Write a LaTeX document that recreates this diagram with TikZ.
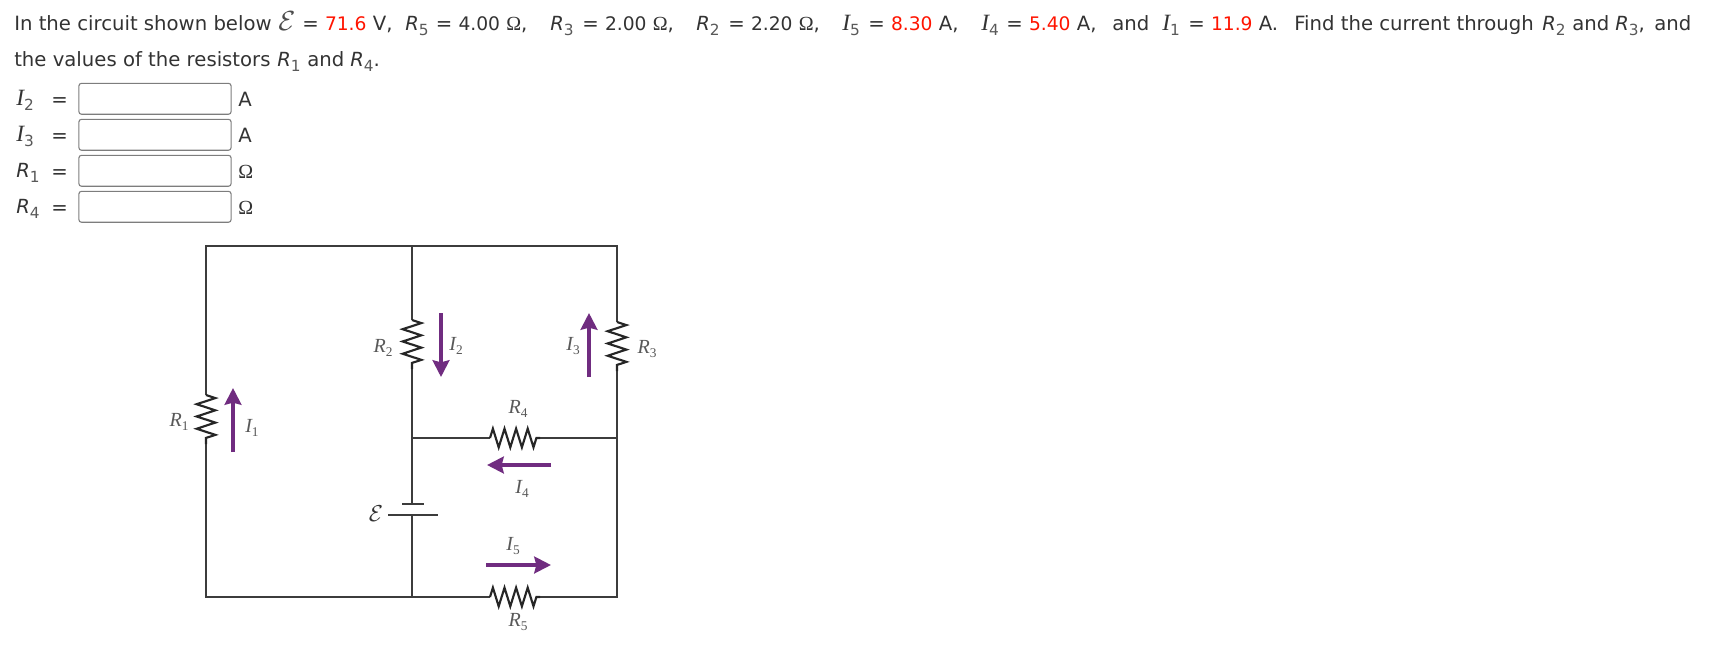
\documentclass[tikz,border=0pt]{standalone}
\usepackage{fontspec}
\setmainfont{DejaVu Sans}
\newfontfamily\symfont{Liberation Serif}
\usetikzlibrary{arrows.meta, decorations.pathmorphing}
\definecolor{cText}{RGB}{51,51,51}
\definecolor{cRed}{RGB}{255,20,0}
\definecolor{cWire}{RGB}{60,60,60}
\definecolor{cCurrent}{RGB}{112,44,128}
\definecolor{cBorder}{RGB}{125,125,125}
\newcommand{\qsub}[1]{\raisebox{-0.27em}{\fontsize{11.5}{12}\selectfont\color{black!65}#1}}
\newcommand{\qr}[1]{{\itshape\fontsize{14.6}{17}\selectfont R}\qsub{#1}}
\newcommand{\qi}[1]{{\symfont\itshape\fontsize{17.5}{20}\selectfont I}\qsub{#1}}
\newcommand{\cv}[2]{{\symfont\itshape #1}\raisebox{-0.22em}{\symfont\fontsize{10}{10}\selectfont #2}}
\newcommand{\ohm}{{\symfont\fontsize{15}{16}\selectfont ^^^^03a9}}
\newcommand{\nv}[1]{{\fontsize{14}{17}\selectfont #1}}
\newcommand{\val}[1]{\textcolor{cRed}{\nv{#1}}}
\tikzset{
  qtext/.style={anchor=base west,inner sep=0pt,text=cText,font=\fontsize{14.75}{17}\selectfont},
  ansbox/.style={draw=cBorder,rounded corners=2pt,line width=0.8pt,minimum width=114.2pt,minimum height=23.2pt,inner sep=0pt},
  wire/.style={draw=cWire,line width=1.3pt},
  res/.style={draw=black!85,line width=1.6pt,decorate,decoration={zigzag,amplitude=7pt,segment length=9.2pt}},
  hres/.style={draw=black!85,line width=1.6pt,decorate,decoration={zigzag,amplitude=7pt,segment length=8.7pt}},
  cur/.style={draw=cCurrent,line width=3.2pt,-{Stealth[length=12.5pt,width=12.5pt,inset=1.5pt]}},
  clabel/.style={inner sep=0pt,text=black!65,font=\symfont\fontsize{15}{16}\selectfont},
}
\begin{document}
\begin{tikzpicture}[x=0.75pt,y=-0.75pt]
  \useasboundingbox[fill=white] (0,0) rectangle (1725,661);
  % Enunciado
  \node[qtext] (t1) at (14,30) {In the circuit shown below};
  \node[qtext,text=black!70,font=\fontsize{21}{21}\selectfont] (t2) at (278,30) {$\mathcal{E}$};
  \node[qtext] (t3) at (302,30) {= \val{71.6} V,};
  \node[qtext] (t4) at (405,30) {\qr{5}};
  \node[qtext] (t5) at (435.5,30) {= \nv{4.00} \ohm,};
  \node[qtext] (t6) at (550,30) {\qr{3}};
  \node[qtext] (t7) at (582,30) {= \nv{2.00} \ohm,};
  \node[qtext] (t8) at (696,30) {\qr{2}};
  \node[qtext] (t9) at (728,30) {= \nv{2.20} \ohm,};
  \node[qtext] (t10) at (842,30) {\qi{5}};
  \node[qtext] (t11) at (868,30) {= \val{8.30} A,};
  \node[qtext] (t12) at (981,30) {\qi{4}};
  \node[qtext] (t13) at (1006,30) {= \val{5.40} A,};
  \node[qtext] (t14) at (1112,30) {and};
  \node[qtext] (t15) at (1162,30) {\qi{1}};
  \node[qtext] (t16) at (1188,30) {= \val{11.9} A.};
  \node[qtext] (t17) at (1294,30) {Find the current through};
  \node[qtext] (t18) at (1542,30) {\qr{2}};
  \node[qtext] (t19) at (1572,30) {and};
  \node[qtext] (t20) at (1615,30) {\qr{3},};
  \node[qtext] (t21) at (1654,30) {and};
  \node[qtext] (s1) at (14,66) {the values of the resistors};
  \node[qtext] (s2) at (277,66) {\qr{1}};
  \node[qtext] (s3) at (307,66) {and};
  \node[qtext] (s4) at (350,66) {\qr{4}.};
  % Respostas
  \node[qtext] (lblA) at (16,105) {\qi{2}};
  \node[qtext] (eqA) at (51,106) {=};
  \node[ansbox] (boxA) at (155,98.8) {};
  \node[qtext] (unitA) at (238,106) {A};
  \node[qtext] (lblB) at (16,141) {\qi{3}};
  \node[qtext] (eqB) at (51,142) {=};
  \node[ansbox] (boxB) at (155,134.8) {};
  \node[qtext] (unitB) at (238,142) {A};
  \node[qtext] (lblC) at (16,177) {\qr{1}};
  \node[qtext] (eqC) at (51,178) {=};
  \node[ansbox] (boxC) at (155,170.8) {};
  \node[qtext] (unitC) at (238,178) {\ohm};
  \node[qtext] (lblD) at (16,213) {\qr{4}};
  \node[qtext] (eqD) at (51,214) {=};
  \node[ansbox] (boxD) at (155,206.8) {};
  \node[qtext] (unitD) at (238,214) {\ohm};
  % Malha
  \coordinate (tl) at (206,246);
  \coordinate (tm) at (412,246);
  \coordinate (tr) at (617,246);
  \coordinate (ml) at (412,438);
  \coordinate (mr) at (617,438);
  \coordinate (bl) at (206,597);
  \coordinate (bm) at (412,597);
  \coordinate (br) at (617,597);
  \coordinate (r1t) at (206,395);
  \coordinate (r1b) at (206,444);
  \coordinate (r2t) at (412,320);
  \coordinate (r2b) at (412,369);
  \coordinate (r3t) at (617,322);
  \coordinate (r3b) at (617,371);
  \coordinate (r4l) at (490,438);
  \coordinate (r4r) at (540,438);
  \coordinate (r5l) at (490,597);
  \coordinate (r5r) at (540,597);
  \coordinate (batS) at (412,504);
  \coordinate (batL) at (412,515);
  \draw[wire] (r1t) -- (tl) -- (tr) -- (r3t);
  \draw[wire] (r3b) -- (br) -- (r5r);
  \draw[wire] (r5l) -- (bl) -- (r1b);
  \draw[wire] (tm) -- (r2t);
  \draw[wire] (r2b) -- (batS);
  \draw[wire] (batL) -- (bm);
  \draw[wire] (ml) -- (r4l);
  \draw[wire] (r4r) -- (mr);
  \draw[res] (r1t) -- (r1b);
  \draw[res] (r2t) -- (r2b);
  \draw[res] (r3t) -- (r3b);
  \draw[hres] (r4l) -- (r4r);
  \draw[hres] (r5l) -- (r5r);
  % Bateria
  \coordinate (batSa) at (402,504);
  \coordinate (batSb) at (424,504);
  \coordinate (batLa) at (388,515);
  \coordinate (batLb) at (438,515);
  \draw[wire,line width=2pt] (batSa) -- (batSb);
  \draw[wire,line width=2pt] (batLa) -- (batLb);
  \node[clabel,text=black!80,font=\fontsize{16}{16}\selectfont] (emf) at (376,514) {$\mathcal{E}$};
  % Correntes
  \coordinate (i1a) at (233,452);
  \coordinate (i1b) at (233,388);
  \coordinate (i2a) at (441,313);
  \coordinate (i2b) at (441,377);
  \coordinate (i3a) at (589,377);
  \coordinate (i3b) at (589,313);
  \coordinate (i4a) at (551,465);
  \coordinate (i4b) at (487,465);
  \coordinate (i5a) at (486,565);
  \coordinate (i5b) at (551,565);
  \draw[cur] (i1a) -- (i1b);
  \draw[cur] (i2a) -- (i2b);
  \draw[cur] (i3a) -- (i3b);
  \draw[cur] (i4a) -- (i4b);
  \draw[cur] (i5a) -- (i5b);
  % Rotulos
  \node[clabel] (lR1) at (179,422) {\cv{R}{1}};
  \node[clabel] (lI1) at (252,428) {\cv{I}{1}};
  \node[clabel] (lR2) at (383,348) {\cv{R}{2}};
  \node[clabel] (lI2) at (456,346) {\cv{I}{2}};
  \node[clabel] (lI3) at (573,346) {\cv{I}{3}};
  \node[clabel] (lR3) at (647,349) {\cv{R}{3}};
  \node[clabel] (lR4) at (518,409) {\cv{R}{4}};
  \node[clabel] (lI4) at (522,489) {\cv{I}{4}};
  \node[clabel] (lI5) at (513,546) {\cv{I}{5}};
  \node[clabel] (lR5) at (518,622) {\cv{R}{5}};
\end{tikzpicture}
\end{document}
